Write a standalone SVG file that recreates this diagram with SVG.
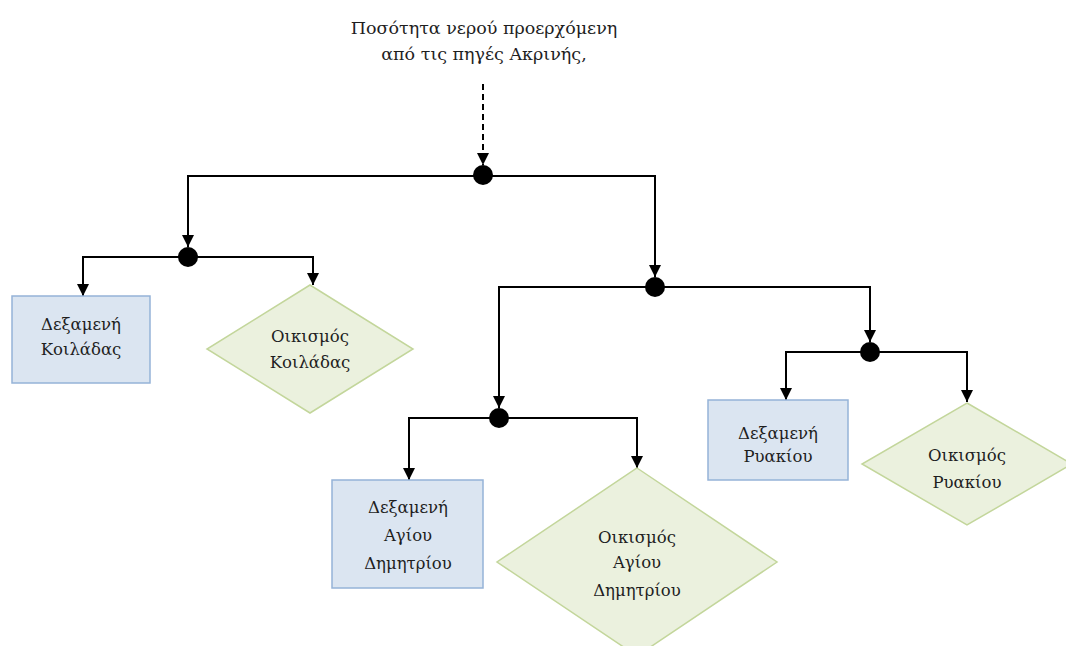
<svg xmlns="http://www.w3.org/2000/svg" width="1066" height="646" viewBox="0 0 1066 646">
  <style>
    .lbl { font-family: "DejaVu Serif", "Liberation Serif", serif; font-size: 16.5px; fill: #1e1e1e; text-anchor: middle; }
    .title { font-family: "DejaVu Serif", "Liberation Serif", serif; font-size: 17.5px; fill: #1e1e1e; text-anchor: middle; }
    .tank { fill: #dbe5f1; stroke: #95b3d7; stroke-width: 1.5; }
    .village { fill: #ebf1de; stroke: #c3d69b; stroke-width: 1.5; }
    .wire { fill: none; stroke: #000; stroke-width: 2; marker-end: url(#arrow); }
    .dash { fill: none; stroke: #000; stroke-width: 2; stroke-dasharray: 6 4; marker-end: url(#arrow); }
    .junction { fill: #000; }
  </style>
  <defs>
    <marker id="arrow" viewBox="0 0 12 12" refX="12" refY="6" markerWidth="12" markerHeight="12" markerUnits="userSpaceOnUse" orient="auto">
      <path d="M0,0 L12,6 L0,12 Z" fill="#000"/>
    </marker>
  </defs>

  <rect width="1066" height="646" fill="#ffffff"/>

  <g id="source">
    <text class="title" x="484" y="34">Ποσότητα νερού προερχόμενη</text>
    <text class="title" x="484" y="60">από τις πηγές Ακρινής,</text>
  </g>

  <g id="connectors">
    <path class="dash" d="M483,84 V165"/>
    <path class="wire" d="M483,176 H188 V247"/>
    <path class="wire" d="M483,176 H655 V277"/>
    <path class="wire" d="M188,257 H83 V296"/>
    <path class="wire" d="M188,257 H313 V285"/>
    <path class="wire" d="M655,287 H499 V408"/>
    <path class="wire" d="M655,287 H870 V342"/>
    <path class="wire" d="M499,418 H409 V480"/>
    <path class="wire" d="M499,418 H637 V468"/>
    <path class="wire" d="M870,352 H786 V400"/>
    <path class="wire" d="M870,352 H967 V402"/>
  </g>

  <g id="junctions">
    <circle class="junction" cx="483" cy="175" r="10"/>
    <circle class="junction" cx="188" cy="257" r="10"/>
    <circle class="junction" cx="655" cy="287" r="10"/>
    <circle class="junction" cx="499" cy="418" r="10"/>
    <circle class="junction" cx="870" cy="352" r="10"/>
  </g>

  <g id="tank-koiladas">
    <rect class="tank" x="12" y="296" width="138" height="87"/>
    <text class="lbl" x="81" y="330">Δεξαμενή</text>
    <text class="lbl" x="81" y="355">Κοιλάδας</text>
  </g>

  <g id="village-koiladas">
    <polygon class="village" points="310,285 413,349 310,413 207,349"/>
    <text class="lbl" x="310" y="342">Οικισμός</text>
    <text class="lbl" x="310" y="368">Κοιλάδας</text>
  </g>

  <g id="tank-agiou-dimitriou">
    <rect class="tank" x="332" y="480" width="151" height="108"/>
    <text class="lbl" x="408" y="513">Δεξαμενή</text>
    <text class="lbl" x="408" y="541">Αγίου</text>
    <text class="lbl" x="408" y="569">Δημητρίου</text>
  </g>

  <g id="village-agiou-dimitriou">
    <polygon class="village" points="637,468 777,562 637,656 497,562"/>
    <text class="lbl" x="637" y="543">Οικισμός</text>
    <text class="lbl" x="637" y="568">Αγίου</text>
    <text class="lbl" x="637" y="596">Δημητρίου</text>
  </g>

  <g id="tank-ryakiou">
    <rect class="tank" x="708" y="400" width="140" height="80"/>
    <text class="lbl" x="778" y="439">Δεξαμενή</text>
    <text class="lbl" x="778" y="462">Ρυακίου</text>
  </g>

  <g id="village-ryakiou">
    <polygon class="village" points="967,403 1072,464 967,525 862,464"/>
    <text class="lbl" x="967" y="461">Οικισμός</text>
    <text class="lbl" x="967" y="488">Ρυακίου</text>
  </g>
</svg>
